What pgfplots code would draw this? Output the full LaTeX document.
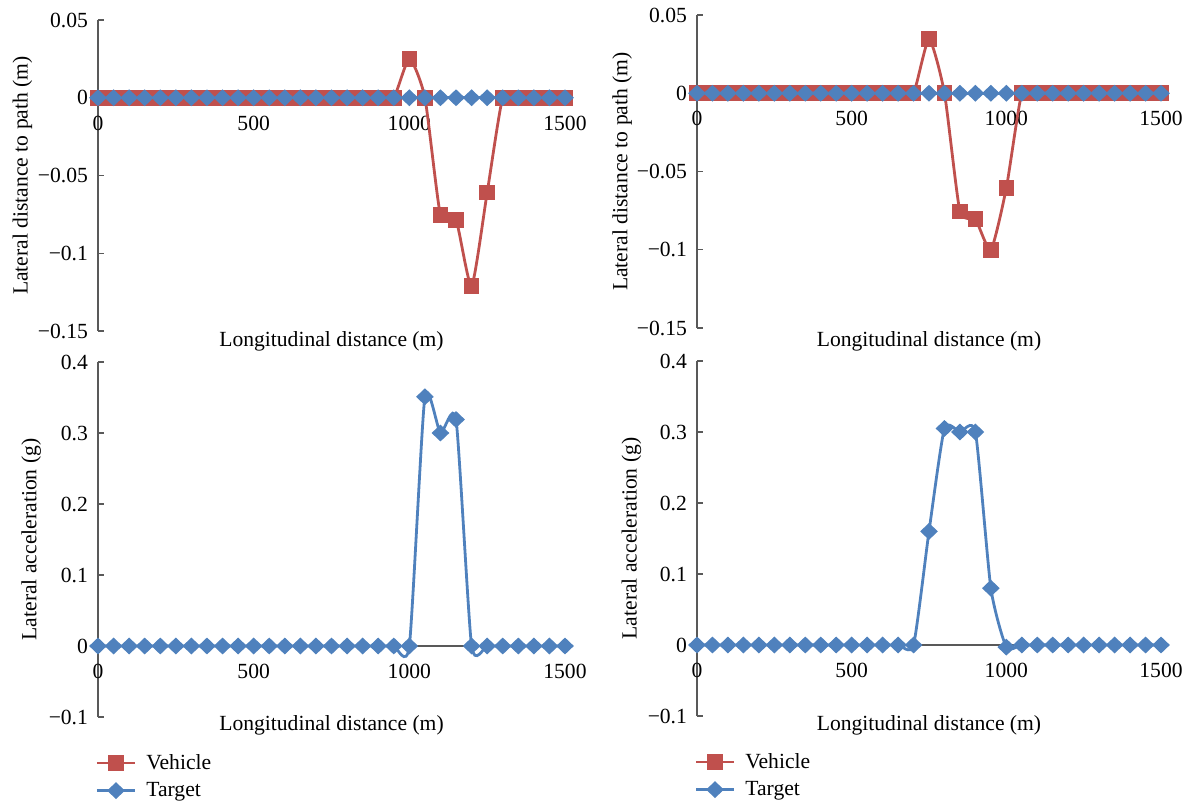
\documentclass[border=0pt]{standalone}
\usepackage{fontspec}
\setmainfont{Liberation Serif}
\usepackage{pgfplots}
\usepackage{pgfplotstable}
\pgfplotsset{compat=1.18}
\definecolor{vred}{HTML}{C0504D}
\definecolor{tblue}{HTML}{4F81BD}
\definecolor{axgray}{HTML}{595959}

% Top-left: lateral distance, vehicle (event at 1000 m)
\pgfplotstableread{
x y
0 0
50 0
100 0
150 0
200 0
250 0
300 0
350 0
400 0
450 0
500 0
550 0
600 0
650 0
700 0
750 0
800 0
850 0
900 0
950 0
1000 0.025
1050 0
1100 -0.0755
1150 -0.0785
1200 -0.121
1250 -0.061
1300 0
1350 0
1400 0
1450 0
1500 0
}\vehA
% Top-right: lateral distance, vehicle (event at 750 m)
\pgfplotstableread{
x y
0 0
50 0
100 0
150 0
200 0
250 0
300 0
350 0
400 0
450 0
500 0
550 0
600 0
650 0
700 0
750 0.0345
800 0
850 -0.0755
900 -0.0805
950 -0.1
1000 -0.0605
1050 0
1100 0
1150 0
1200 0
1250 0
1300 0
1350 0
1400 0
1450 0
1500 0
}\vehB
% Target lateral distance (zero everywhere)
\pgfplotstableread{
x y
0 0
50 0
100 0
150 0
200 0
250 0
300 0
350 0
400 0
450 0
500 0
550 0
600 0
650 0
700 0
750 0
800 0
850 0
900 0
950 0
1000 0
1050 0
1100 0
1150 0
1200 0
1250 0
1300 0
1350 0
1400 0
1450 0
1500 0
}\tarZero
% Bottom-left: lateral acceleration
\pgfplotstableread{
x y
0 0
50 0
100 0
150 0
200 0
250 0
300 0
350 0
400 0
450 0
500 0
550 0
600 0
650 0
700 0
750 0
800 0
850 0
900 0
950 0
1000 0
1050 0.351
1100 0.300
1150 0.319
1200 0
1250 0
1300 0
1350 0
1400 0
1450 0
1500 0
}\accA
% Bottom-right: lateral acceleration
\pgfplotstableread{
x y
0 0
50 0
100 0
150 0
200 0
250 0
300 0
350 0
400 0
450 0
500 0
550 0
600 0
650 0
700 0
750 0.160
800 0.305
850 0.300
900 0.300
950 0.080
1000 -0.003
1050 0
1100 0
1150 0
1200 0
1250 0
1300 0
1350 0
1400 0
1450 0
1500 0
}\accB

\pgfplotsset{
 base/.style={
  scale only axis, clip=false,
  axis x line=middle, axis y line=left,
  hide obscured x ticks=false, hide obscured y ticks=false,
  axis line style={-, draw=axgray, line width=0.6pt},
  xmin=0, xmax=1500,
  xtick={0,500,1000,1500},
  xticklabels={0,500,1000,1500},
  xtick style={draw=none},
  tick align=center,
  major tick length=3pt,
  ytick style={draw=axgray, line width=0.6pt, xshift=1.5pt},
  x tick label style={yshift=-4pt},
  font=\fontsize{10.8}{13}\selectfont,
  /pgf/number format/assume math mode=true,
  every axis x label/.style={at={(axis description cs:0.5,0)}, anchor=center},
  every axis y label/.style={at={(axis description cs:-0.167,0.5)}, anchor=center, rotate=90},
  legend style={draw=none, fill=none, inner sep=0pt, cells={anchor=west},
    font=\fontsize{10.8}{13}\selectfont, row sep=1pt,
    legend cell align=left,
    /tikz/every odd column/.append style={column sep=3pt}},
  legend image code/.code={\draw[mark repeat=2,mark phase=2,#1]
     plot coordinates {(0pt,0pt) (9.5pt,0pt) (19pt,0pt)};},
 },
 veh/.style={color=vred, line width=1.4pt, smooth, tension=0.35, mark=square*, mark size=3.6pt,
   mark options={solid, fill=vred, line width=0.6pt}},
 tar/.style={color=tblue, line width=1.4pt, smooth, tension=0.35, mark=diamond*, mark size=3.8pt,
   mark options={solid, fill=tblue, line width=0.6pt, xscale=1.4}},
}

\begin{document}
\begin{tikzpicture}
\useasboundingbox (0,0) rectangle (595.5pt,402.5pt);

% Top-left
\begin{axis}[base, at={(49pt,237pt)}, anchor=south west,
  width=233.5pt, height=155.5pt,
  ymin=-0.15, ymax=0.05,
  ytick={-0.15,-0.1,-0.05,0,0.05},
  yticklabels={−0.15,−0.1,−0.05,0,0.05},
  xlabel={Longitudinal distance (m)},
  ylabel={Lateral distance to path (m)},
  xlabel style={yshift=-5pt},
  ylabel style={at={(axis description cs:-0.162,0.5)}}]
\addplot[veh] table {\vehA};
\addplot[tar] table {\tarZero};
\end{axis}

% Top-right
\begin{axis}[base, at={(348.5pt,238.5pt)}, anchor=south west,
  width=232pt, height=156.5pt,
  ymin=-0.15, ymax=0.05,
  ytick={-0.15,-0.1,-0.05,0,0.05},
  yticklabels={−0.15,−0.1,−0.05,0,0.05},
  xlabel={Longitudinal distance (m)},
  ylabel={Lateral distance to path (m)},
  xlabel style={yshift=-6.5pt},
  ylabel style={at={(axis description cs:-0.161,0.5)}}]
\addplot[veh] table {\vehB};
\addplot[tar] table {\tarZero};
\end{axis}

% Bottom-left
\begin{axis}[base, at={(49pt,44pt)}, anchor=south west,
  width=233.5pt, height=177.5pt,
  ymin=-0.1, ymax=0.4,
  ytick={-0.1,0,0.1,0.2,0.3,0.4},
  yticklabels={−0.1,0,0.1,0.2,0.3,0.4},
  xlabel={Longitudinal distance (m)},
  ylabel={Lateral acceleration (g)},
  xlabel style={yshift=-4pt},
  ylabel style={at={(axis description cs:-0.143,0.5)}},
  legend style={at={(axis description cs:-0.006,-0.092)}, anchor=north west}]
\addlegendimage{veh}
\addlegendentry{Vehicle}
\addplot[tar] table {\accA};
\addlegendentry{Target}
\end{axis}

% Bottom-right
\begin{axis}[base, at={(348.5pt,44.5pt)}, anchor=south west,
  width=232pt, height=177.5pt,
  ymin=-0.1, ymax=0.4,
  ytick={-0.1,0,0.1,0.2,0.3,0.4},
  yticklabels={−0.1,0,0.1,0.2,0.3,0.4},
  xlabel={Longitudinal distance (m)},
  ylabel={Lateral acceleration (g)},
  xlabel style={yshift=-4.5pt},
  ylabel style={at={(axis description cs:-0.141,0.5)}},
  legend style={at={(axis description cs:-0.006,-0.092)}, anchor=north west}]
\addlegendimage{veh}
\addlegendentry{Vehicle}
\addplot[tar] table {\accB};
\addlegendentry{Target}
\end{axis}
\end{tikzpicture}
\end{document}
